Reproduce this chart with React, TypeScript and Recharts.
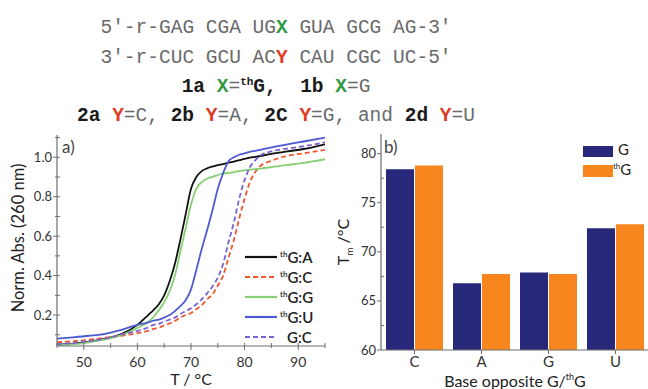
import React from "react";
import { LineChart, Line, XAxis, YAxis, BarChart, Bar } from "recharts";

// panel a: melting curves
const temps = [45, 48, 51, 54, 57, 60, 62, 63, 64, 65, 66, 67, 68, 69, 70, 71, 72, 73, 74, 75, 76, 77, 78, 79, 80, 81, 82, 83, 85, 88, 91, 95];
const thGA = [0.05, 0.055, 0.065, 0.08, 0.103, 0.15, 0.2, 0.225, 0.255, 0.3, 0.37, 0.46, 0.58, 0.71, 0.84, 0.9, 0.93, 0.944, 0.953, 0.96, 0.965, 0.973, 0.978, 0.985, 0.992, 0.998, 1.002, 1.007, 1.017, 1.03, 1.042, 1.066];
const thGC = [0.062, 0.067, 0.075, 0.085, 0.095, 0.108, 0.12, 0.13, 0.136, 0.147, 0.157, 0.17, 0.187, 0.2, 0.21, 0.23, 0.25, 0.28, 0.305, 0.35, 0.4, 0.49, 0.58, 0.69, 0.79, 0.875, 0.926, 0.957, 0.982, 1.008, 1.02, 1.038];
const thGG = [0.047, 0.052, 0.062, 0.076, 0.098, 0.135, 0.165, 0.19, 0.225, 0.265, 0.32, 0.4, 0.52, 0.64, 0.76, 0.84, 0.875, 0.892, 0.901, 0.91, 0.918, 0.92, 0.925, 0.93, 0.934, 0.937, 0.94, 0.943, 0.95, 0.961, 0.972, 0.99];
const thGU = [0.08, 0.087, 0.095, 0.105, 0.125, 0.15, 0.163, 0.172, 0.177, 0.187, 0.2, 0.22, 0.245, 0.275, 0.33, 0.43, 0.535, 0.63, 0.73, 0.84, 0.92, 0.98, 1.0, 1.013, 1.02, 1.028, 1.033, 1.038, 1.05, 1.066, 1.08, 1.1];
const GC = [0.052, 0.058, 0.068, 0.08, 0.102, 0.12, 0.137, 0.15, 0.155, 0.167, 0.177, 0.187, 0.205, 0.22, 0.235, 0.255, 0.28, 0.31, 0.345, 0.39, 0.46, 0.57, 0.67, 0.79, 0.885, 0.95, 0.985, 1.01, 1.03, 1.044, 1.056, 1.075];
const tTicks = [45, 50, 55, 60, 65, 70, 75, 80, 85, 90, 95];
const absTicks = [0.1, 0.2, 0.3, 0.4, 0.5, 0.6, 0.7, 0.8, 0.9, 1.0, 1.1];

// panel b: Tm values
const bases = ["C", "A", "G", "U"];
const tmG = [78.4, 66.8, 67.9, 72.4];
const tmThG = [78.8, 67.75, 67.75, 72.8];
const tmTicks = [60, 62.5, 65, 67.5, 70, 72.5, 75, 77.5, 80];

const meltData = temps.map((t, i) => ({
  t,
  thGA: thGA[i],
  thGC: thGC[i],
  thGG: thGG[i],
  thGU: thGU[i],
  GC: GC[i],
}));
const tmData = bases.map((b, i) => ({ base: b, g: tmG[i], thg: tmThG[i] }));

const SANS = "Lato, 'Open Sans', sans-serif";
const MONO = "'Liberation Mono', 'DejaVu Sans Mono', monospace";
const FRAME = "#6f6f6f";
const TXT = "#333";

const series = [
  { key: "thGA", label: "G:A", th: true, color: "#111111", dash: undefined },
  { key: "thGC", label: "G:C", th: true, color: "#f0562e", dash: "5 3" },
  { key: "thGG", label: "G:G", th: true, color: "#86cf74", dash: undefined },
  { key: "thGU", label: "G:U", th: true, color: "#4d5ad0", dash: undefined },
  { key: "GC", label: "G:C", th: false, color: "#7a62d2", dash: "5 3" },
];

function XTickA(props: any) {
  const { x, y, payload } = props;
  const v = Number(payload.value);
  const major = Math.round(v) % 10 === 0;
  return (
    <g>
      <line x1={x} x2={x} y1={y - 3} y2={y + (major ? 4 : 2)} stroke={FRAME} />
      {major && (
        <text x={x} y={y + 21} textAnchor="middle" fontSize={14} fill={TXT} fontFamily={SANS}>
          {String(v)}
        </text>
      )}
    </g>
  );
}

function YTickA(props: any) {
  const { x, y, payload } = props;
  const k = Math.round(Number(payload.value) * 10);
  const major = k % 2 === 0;
  return (
    <g>
      <line x1={x + 3} x2={x - (major ? 4 : 2)} y1={y} y2={y} stroke={FRAME} />
      {major && (
        <text x={x - 5} y={y + 4.5} textAnchor="end" fontSize={13} fill={TXT} fontFamily={SANS}>
          {(k / 10).toFixed(1)}
        </text>
      )}
    </g>
  );
}

function YTickB(props: any) {
  const { x, y, payload } = props;
  const v = Number(payload.value);
  const major = v % 5 === 0;
  return (
    <g>
      <line x1={x + (major ? 0 : 3)} x2={x - (major ? 4 : 0)} y1={y} y2={y} stroke={FRAME} />
      {major && (
        <text x={x - 5} y={y + 4.5} textAnchor="end" fontSize={13} fill={TXT} fontFamily={SANS}>
          {String(v)}
        </text>
      )}
    </g>
  );
}

function YTickBRight(props: any) {
  const { x, y, payload } = props;
  const major = Number(payload.value) % 5 === 0;
  return <line x1={x} x2={x - (major ? 6 : 4)} y1={y} y2={y} stroke={FRAME} />;
}

function XTickB(props: any) {
  const { x, y, payload } = props;
  return (
    <g>
      <line x1={x} x2={x} y1={y} y2={y + 4} stroke={FRAME} />
      <text x={x} y={y + 17} textAnchor="middle" fontSize={15} fill={TXT} fontFamily={SANS}>
        {payload.value}
      </text>
    </g>
  );
}

const grey = { color: "#6a6a6a", fontWeight: 400 };
const bold = { color: "#1a1a1a", fontWeight: 700 };
const green = { color: "#2f9a3c", fontWeight: 700 };
const red = { color: "#e23a22", fontWeight: 700 };
const supTh = { fontSize: 11, position: "relative" as const, top: -7, verticalAlign: "baseline" };

function Header() {
  const line = (top: number, children: React.ReactNode) => (
    <div
      style={{
        position: "absolute",
        left: 0,
        top,
        width: 552,
        height: 20,
        textAlign: "center",
        fontFamily: MONO,
        fontSize: 19.5,
        lineHeight: "20px",
        whiteSpace: "pre",
        color: "#6a6a6a",
      }}
    >
      {children}
    </div>
  );
  return (
    <>
      {line(18, <span>5′-r-GAG CGA UG<span style={green}>X</span> GUA GCG AG-3′</span>)}
      {line(48, <span>3′-r-CUC GCU AC<span style={red}>Y</span> CAU CGC UC-5′</span>)}
      {line(
        77,
        <span>
          <span style={bold}>1a </span>
          <span style={green}>X</span>
          <span style={grey}>=</span>
          <span style={bold}>
            <span style={supTh}>th</span>G,  1b{" "}
          </span>
          <span style={green}>X</span>
          <span style={grey}>=G</span>
        </span>
      )}
      {line(
        106,
        <span>
          <span style={bold}>2a </span>
          <span style={red}>Y</span>
          <span style={grey}>=C, </span>
          <span style={bold}>2b </span>
          <span style={red}>Y</span>
          <span style={grey}>=A, </span>
          <span style={bold}>2C </span>
          <span style={red}>Y</span>
          <span style={grey}>=G, and </span>
          <span style={bold}>2d </span>
          <span style={red}>Y</span>
          <span style={grey}>=U</span>
        </span>
      )}
    </>
  );
}

const smallSup = { fontSize: 8, position: "relative" as const, top: -6, verticalAlign: "baseline" };

function LegendA() {
  return (
    <div style={{ position: "absolute", left: 244, top: 247 }}>
      {series.map((s, i) => (
        <div key={i} style={{ position: "absolute", left: 0, top: i * 20, height: 20, width: 90 }}>
          <svg width={34} height={20} style={{ position: "absolute", left: 0, top: 0 }}>
            <line x1={1} x2={33} y1={10} y2={10} stroke={s.color} strokeWidth={2.2} strokeDasharray={s.dash} />
          </svg>
          <span
            style={{
              position: "absolute",
              left: 36,
              top: 1,
              fontFamily: SANS,
              fontSize: 15,
              fontWeight: 600,
              color: "#222",
              whiteSpace: "nowrap",
              lineHeight: "18px",
            }}
          >
            {s.th ? <span style={smallSup}>th</span> : <span style={{ marginLeft: 7 }} />}
            {s.label}
          </span>
        </div>
      ))}
    </div>
  );
}

function LegendB() {
  return (
    <>
      <div style={{ position: "absolute", left: 583, top: 146, width: 30, height: 11, background: "#28287a" }} />
      <div style={{ position: "absolute", left: 583, top: 165, width: 30, height: 12, background: "#f7861e" }} />
      <div style={{ position: "absolute", left: 618, top: 140, fontFamily: SANS, fontSize: 15, color: "#222" }}>G</div>
      <div style={{ position: "absolute", left: 613, top: 160, fontFamily: SANS, fontSize: 15, color: "#222" }}>
        <span style={smallSup}>th</span>G
      </div>
    </>
  );
}

export default function App() {
  const label = { position: "absolute" as const, fontFamily: SANS, color: "#222", whiteSpace: "nowrap" as const };
  return (
    <div
      style={{
        position: "absolute",
        left: 0,
        top: 0,
        width: 648,
        height: 389,
        overflow: "hidden",
        background: "#fff",
      }}
    >
      <Header />

      <div style={{ position: "absolute", left: 0, top: 125 }}>
        <LineChart width={340} height={264} data={meltData} margin={{ top: 10, right: 15, left: 0, bottom: 13 }}>
          <XAxis
            dataKey="t"
            type="number"
            domain={[45, 95]}
            ticks={tTicks}
            interval={0}
            allowDataOverflow
            height={30}
            tickSize={0}
            tickMargin={0}
            tickLine={false}
            tick={XTickA}
            axisLine={{ stroke: FRAME, strokeWidth: 1.2 }}
          />
          <XAxis
            xAxisId="top"
            orientation="top"
            type="number"
            domain={[45, 95]}
            height={0}
            tick={false}
            tickLine={false}
            axisLine={{ stroke: FRAME, strokeWidth: 1.2 }}
          />
          <YAxis
            type="number"
            domain={[0.043, 1.113]}
            ticks={absTicks}
            interval={0}
            allowDataOverflow
            width={57}
            tickSize={0}
            tickMargin={0}
            tickLine={false}
            tick={YTickA}
            axisLine={{ stroke: FRAME, strokeWidth: 1.2 }}
          />
          <YAxis
            yAxisId="r"
            orientation="right"
            type="number"
            domain={[0, 1]}
            width={0}
            tick={false}
            tickLine={false}
            axisLine={{ stroke: FRAME, strokeWidth: 1.2 }}
          />
          {series.map((s) => (
            <Line
              key={s.key}
              dataKey={s.key}
              type="monotone"
              stroke={s.color}
              strokeWidth={1.8}
              strokeDasharray={s.dash}
              dot={false}
              isAnimationActive={false}
            />
          ))}
        </LineChart>
      </div>

      <div style={{ position: "absolute", left: 330, top: 125 }}>
        <BarChart
          width={330}
          height={264}
          data={tmData}
          margin={{ top: 9, right: 11, left: 0, bottom: 14 }}
          barCategoryGap={5}
          barGap={1}
        >
          <XAxis
            dataKey="base"
            height={25}
            interval={0}
            tickSize={0}
            tickMargin={0}
            tickLine={false}
            tick={XTickB}
            axisLine={{ stroke: FRAME, strokeWidth: 1.2 }}
          />
          <XAxis
            xAxisId="top"
            dataKey="base"
            orientation="top"
            height={0}
            tick={false}
            tickLine={false}
            axisLine={{ stroke: FRAME, strokeWidth: 1.2 }}
          />
          <YAxis
            type="number"
            domain={[60, 82]}
            ticks={tmTicks}
            interval={0}
            allowDataOverflow
            width={51}
            tickSize={0}
            tickMargin={0}
            tickLine={false}
            tick={YTickB}
            axisLine={{ stroke: FRAME, strokeWidth: 1.2 }}
          />
          <YAxis
            yAxisId="r"
            orientation="right"
            type="number"
            domain={[60, 82]}
            ticks={tmTicks}
            interval={0}
            width={0}
            mirror
            tickSize={0}
            tickMargin={0}
            tickLine={false}
            tick={YTickBRight}
            axisLine={{ stroke: FRAME, strokeWidth: 1.2 }}
          />
          <Bar dataKey="g" fill="#28287a" isAnimationActive={false} />
          <Bar dataKey="thg" fill="#f7861e" isAnimationActive={false} />
        </BarChart>
      </div>

      {/* panel tags */}
      <div style={{ ...label, left: 62, top: 136, fontSize: 17, color: "#444" }}>a)</div>
      <div style={{ ...label, left: 384, top: 136, fontSize: 17, color: "#444" }}>b)</div>

      {/* axis titles */}
      <div style={{ ...label, left: 191, top: 369, fontSize: 16, transform: "translateX(-50%)" }}>T / °C</div>
      <div style={{ ...label, left: 515, top: 371, fontSize: 16, transform: "translateX(-50%)" }}>
        Base opposite G/<span style={{ fontSize: 9, position: "relative", top: -7 }}>th</span>G
      </div>
      <div
        style={{
          ...label,
          left: 18,
          top: 238,
          fontSize: 16.5,
          transform: "translate(-50%, -50%) rotate(-90deg)",
        }}
      >
        Norm. Abs. (260 nm)
      </div>
      <div
        style={{
          ...label,
          left: 344,
          top: 242,
          fontSize: 16,
          transform: "translate(-50%, -50%) rotate(-90deg)",
        }}
      >
        T<sub style={{ fontSize: 10 }}>m</sub> /°C
      </div>

      <LegendA />
      <LegendB />
    </div>
  );
}
